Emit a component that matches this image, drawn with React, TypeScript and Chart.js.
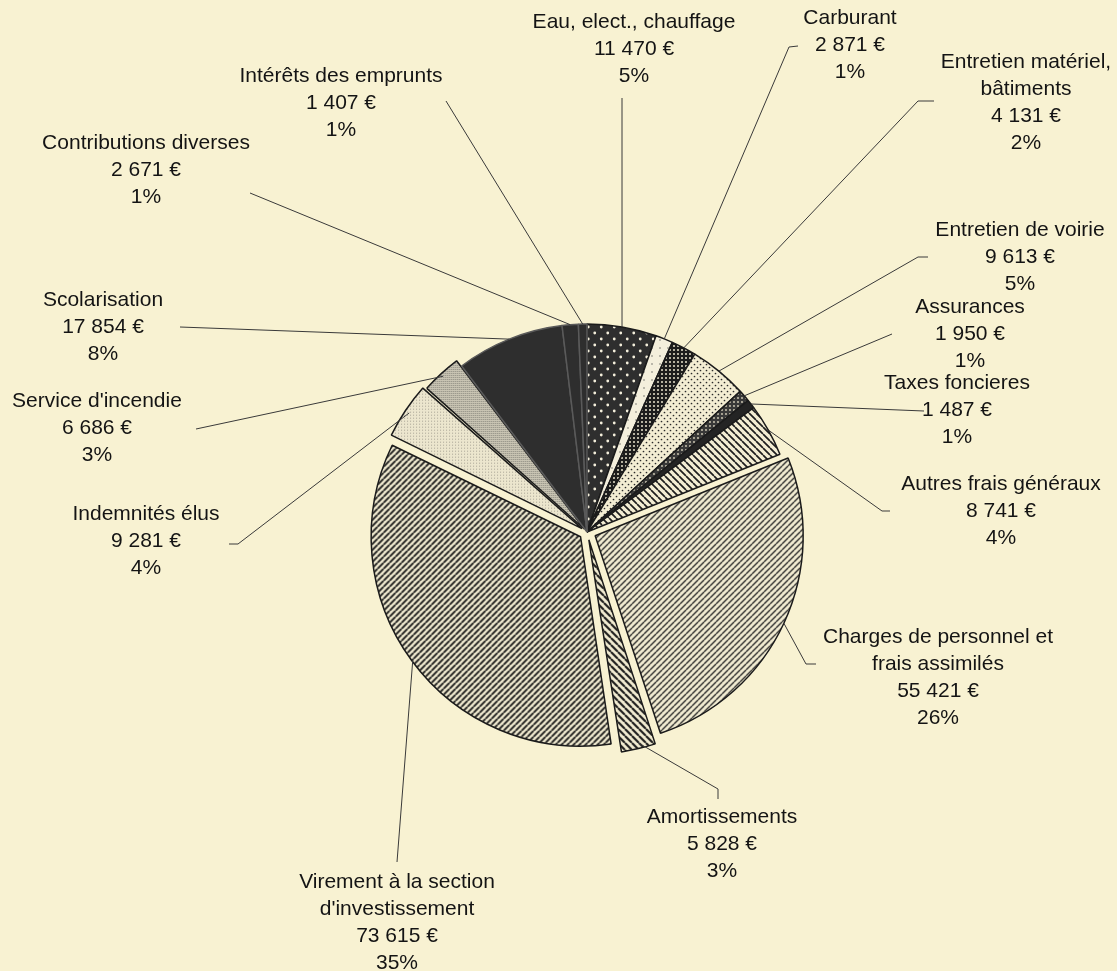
import React, { useEffect, useRef } from "react";
import { Chart, registerables } from "chart.js";

Chart.register(...registerables);

// ---------- data ----------
const categories = [
  "Eau, elect., chauffage",
  "Carburant",
  "Entretien matériel,\nbâtiments",
  "Entretien de voirie",
  "Assurances",
  "Taxes foncieres",
  "Autres frais généraux",
  "Charges de personnel et\nfrais assimilés",
  "Amortissements",
  "Virement à la section\nd'investissement",
  "Indemnités élus",
  "Service d'incendie",
  "Scolarisation",
  "Contributions diverses",
  "Intérêts des emprunts",
];
const amounts = [11470, 2871, 4131, 9613, 1950, 1487, 8741, 55421, 5828, 73615, 9281, 6686, 17854, 2671, 1407];
const percentLabels = ["5%", "1%", "2%", "5%", "1%", "1%", "4%", "26%", "3%", "35%", "4%", "3%", "8%", "1%", "1%"];

// ---------- layout / style ----------
const BG = "#f8f2d2";
const explodePx = [0, 0, 0, 0, 0, 0, 0, 9, 8, 8, 6, 4, 0, 0, 0];
const labelCenters: [number, number][] = [
  [634, 22], [850, 18], [1026, 62], [1020, 230], [970, 307], [957, 383], [1001, 484],
  [938, 637], [722, 817], [397, 882], [146, 514], [97, 401], [103, 300], [146, 143], [341, 76],
];
const leaderPaths: [number, number][][] = [
  [[622, 98]],
  [[789, 47], [798, 46]],
  [[918, 101], [934, 101]],
  [[918, 257], [928, 257]],
  [[892, 334]],
  [[924, 411]],
  [[882, 511], [890, 511]],
  [[806, 664], [816, 664]],
  [[718, 789], [718, 799]],
  [[397, 862]],
  [[238, 544], [229, 544]],
  [[196, 429]],
  [[180, 327]],
  [[250, 193]],
  [[446, 101]],
];
const LINE_GAP = 27;
const FONT = "21px 'Liberation Sans', Arial, sans-serif";

function tile(w: number, h: number, draw: (c: CanvasRenderingContext2D) => void): CanvasPattern {
  const c = document.createElement("canvas");
  c.width = w;
  c.height = h;
  const x = c.getContext("2d")!;
  draw(x);
  const main = document.createElement("canvas").getContext("2d")!;
  return main.createPattern(c, "repeat")!;
}

function hatch(bg: string, fg: string, size: number, lw: number, dir: "/" | "\\"): CanvasPattern {
  return tile(size, size, (x) => {
    x.fillStyle = bg;
    x.fillRect(0, 0, size, size);
    x.strokeStyle = fg;
    x.lineWidth = lw;
    x.beginPath();
    for (const o of [-size, 0, size]) {
      if (dir === "/") {
        x.moveTo(o, size);
        x.lineTo(o + size, 0);
      } else {
        x.moveTo(o, 0);
        x.lineTo(o + size, size);
      }
    }
    x.stroke();
  });
}

function dots(bg: string, fg: string, w: number, h: number, r: number, stagger: boolean): CanvasPattern {
  return tile(w, h, (x) => {
    x.fillStyle = bg;
    x.fillRect(0, 0, w, h);
    x.fillStyle = fg;
    const pts = stagger ? [[w / 4, h / 4], [(3 * w) / 4, (3 * h) / 4]] : [[w / 2, h / 2]];
    for (const [px, py] of pts) {
      x.beginPath();
      x.arc(px, py, r, 0, Math.PI * 2);
      x.fill();
    }
  });
}

function stipple(bg: string, fg: string, n: number, pix: [number, number][]): CanvasPattern {
  return tile(n, n, (x) => {
    x.fillStyle = bg;
    x.fillRect(0, 0, n, n);
    x.fillStyle = fg;
    for (const [px, py] of pix) x.fillRect(px, py, 1, 1);
  });
}

function makeFills() {
  const dark = "#2e2e2e";
  return [
    dots("#2e2e2e", "#f4efdc", 13, 12, 1.4, true), // Eau
    dots("#f4efdc", "#555", 8, 8, 0.7, false), // Carburant
    dots("#1c1c1c", "#e8e3cc", 4, 4, 1.0, false), // Entretien matériel
    dots("#f3edd3", "#2a2a2a", 6, 6, 0.85, true), // Entretien voirie
    dots("#383838", "#d8d3bd", 4, 4, 0.9, false), // Assurances
    "#242424", // Taxes
    hatch("#f3edd3", "#1e1e1e", 7, 1.7, "\\"), // Autres frais
    hatch("#f3edd3", "#262626", 6, 1.35, "/"), // Charges
    hatch("#f3edd3", "#1a1a1a", 7, 2.1, "\\"), // Amortissements
    hatch("#f1ebd1", "#1a1a1a", 6, 1.9, "/"), // Virement
    stipple("#ece6ce", "#a8a496", 3, [[1, 1]]), // Indemnités
    stipple("#cbc6b5", "#85827a", 2, [[0, 0]]), // Service incendie
    dark, // Scolarisation
    dark, // Contributions
    dark, // Intérêts
  ];
}

const borderColors = [
  "#1b1b1b", "#1b1b1b", "#1b1b1b", "#1b1b1b", "#1b1b1b", "#1b1b1b", "#1b1b1b",
  "#1b1b1b", "#1b1b1b", "#1b1b1b", "#1b1b1b", "#1b1b1b", "#5a5a5a", "#5a5a5a", "#5a5a5a",
];

function formatEuro(v: number): string {
  const th = Math.floor(v / 1000);
  const rest = String(v % 1000).padStart(3, "0");
  return `${th} ${rest} €`;
}

const bgPlugin = {
  id: "bgFill",
  beforeDraw(chart: any) {
    const c = chart.ctx;
    c.save();
    c.fillStyle = BG;
    c.fillRect(0, 0, chart.width, chart.height);
    c.restore();
  },
};

const labelPlugin = {
  id: "pieLabels",
  afterDraw(chart: any) {
    const c: CanvasRenderingContext2D = chart.ctx;
    const meta = chart.getDatasetMeta(0);
    c.save();
    meta.data.forEach((arc: any, i: number) => {
      const { x, y, startAngle, endAngle, outerRadius } = arc.getProps(
        ["x", "y", "startAngle", "endAngle", "outerRadius"],
        true
      );
      const off = (arc.options.offset || 0) / 4;
      const mid = (startAngle + endAngle) / 2;
      const ax = x + Math.cos(mid) * (outerRadius + off);
      const ay = y + Math.sin(mid) * (outerRadius + off);
      c.strokeStyle = "#3a3a3a";
      c.lineWidth = 1;
      c.beginPath();
      c.moveTo(ax, ay);
      for (const [px, py] of leaderPaths[i]) c.lineTo(px, py);
      c.stroke();

      const lines = [...categories[i].split("\n"), formatEuro(amounts[i]), percentLabels[i]];
      const [cx, cy] = labelCenters[i];
      c.fillStyle = "#141414";
      c.font = FONT;
      c.textAlign = "center";
      c.textBaseline = "middle";
      lines.forEach((t, k) => c.fillText(t, cx, cy + k * LINE_GAP));
    });
    c.restore();
  },
};

export default function App() {
  const ref = useRef<HTMLCanvasElement>(null);
  useEffect(() => {
    const canvas = ref.current!;
    const chart = new Chart(canvas, {
      type: "pie",
      data: {
        labels: categories,
        datasets: [
          {
            data: amounts,
            backgroundColor: makeFills() as any,
            borderColor: borderColors,
            borderWidth: 1.5,
            offset: explodePx.map((e) => e * 4),
            radius: 208,
          } as any,
        ],
      },
      options: {
        responsive: false,
        animation: false,
        devicePixelRatio: 1,
        rotation: 0,
        events: [],
        layout: { padding: { left: 57, top: 93, right: 0, bottom: 0 } },
        plugins: { legend: { display: false }, tooltip: { enabled: false } },
      },
      plugins: [bgPlugin, labelPlugin],
    });
    return () => chart.destroy();
  }, []);
  return (
    <div style={{ position: "fixed", left: 0, top: 0, width: 1117, height: 971, background: BG }}>
      <canvas ref={ref} width={1117} height={971} style={{ display: "block" }} />
    </div>
  );
}
